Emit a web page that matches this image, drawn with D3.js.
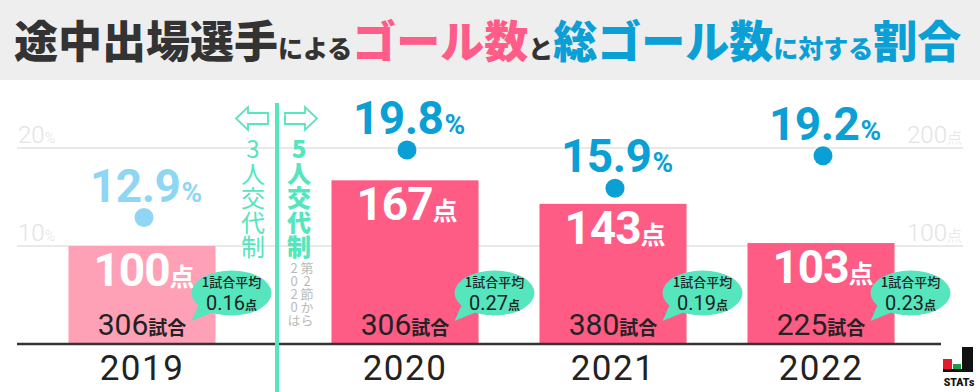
<!DOCTYPE html>
<html>
<head>
<meta charset="utf-8">
<script src="https://cdn.jsdelivr.net/npm/d3@7"></script>
<style>
  html, body { margin: 0; padding: 0; background: #fff; }
  svg { display: block; }
  .vt { writing-mode: vertical-rl; text-orientation: upright; }
</style>
</head>
<body>
<div id="chart"></div>
<script>
// values
var years = ['2019', '2020', '2021', '2022'];
var goals = [100, 167, 143, 103];          // 途中出場選手のゴール数
var ratios = [12.9, 19.8, 15.9, 19.2];     // 総ゴール数に対する割合 (%)
var matches = [306, 306, 380, 225];        // 試合数
var perMatch = ['0.16', '0.27', '0.19', '0.23'];
var pctTicks = [10, 20];
var ptsTicks = [100, 200];
var oldRule = ['2019'];                    // 3人交代制の年

var W = 980, H = 392;
var pink = '#fe5b85', pinkLight = '#ffa1b6';
var blue = '#0a9fd5', blueLight = '#8fd6f5';
var mint = '#55e6bd';
var jp = '"Noto Sans CJK JP", sans-serif';
var num = 'Roboto, "DejaVu Sans", sans-serif';

var svg = d3.select('#chart').append('svg')
    .attr('width', W)
    .attr('height', H);

// title band
svg.append('rect')
    .attr('x', 0).attr('y', 0)
    .attr('width', W).attr('height', 80)
    .attr('fill', '#eeeeee');

var titleParts = [
    { t: '途中出場選手', big: true, c: '#333333' },
    { t: 'による', big: false, c: '#333333' },
    { t: 'ゴール数', big: true, c: '#ff5c8a' },
    { t: 'と', big: false, c: '#333333' },
    { t: '総ゴール数', big: true, c: blue },
    { t: 'に対する', big: false, c: blue },
    { t: '割合', big: true, c: blue }
];
svg.append('text')
    .attr('x', 14).attr('y', 58)
    .attr('font-family', jp)
    .attr('font-weight', 900)
    .selectAll('tspan')
    .data(titleParts)
    .enter()
    .append('tspan')
    .attr('font-size', d => d.big ? 44 : 25)
    .attr('fill', d => d.c)
    .text(d => d.t);

// scales
var step = 208;
var x = d3.scaleBand()
    .domain(years)
    .range([405 - step * 1.5, 405 + step * 2.5])
    .paddingInner(0.293)
    .paddingOuter(0.1465);
var shift = d => oldRule.indexOf(d) >= 0 ? -55 : 0;   // 区切り線より左の年
var cx = d => x(d) + shift(d) + x.bandwidth() / 2;

var yPct = d3.scaleLinear().domain([0, 20]).range([344, 148]);
var yPts = d3.scaleLinear().domain([0, 200]).range([344, 148]);

// gridlines
svg.selectAll('.grid')
    .data(pctTicks)
    .enter()
    .append('line')
    .attr('class', 'grid')
    .attr('x1', 17).attr('x2', 963)
    .attr('y1', d => yPct(d)).attr('y2', d => yPct(d))
    .attr('stroke', '#e9e9e9')
    .attr('stroke-width', 2);

// left axis labels
var lt = svg.selectAll('.lt')
    .data(pctTicks)
    .enter()
    .append('text')
    .attr('class', 'lt')
    .attr('x', 18)
    .attr('y', d => yPct(d) - 5)
    .attr('fill', '#e3e3e3')
    .attr('font-family', num)
    .attr('font-weight', 300);
lt.append('tspan').attr('font-size', 24).text(d => d);
lt.append('tspan').attr('font-size', 14).text('%');

// right axis labels
var rt = svg.selectAll('.rt')
    .data(ptsTicks)
    .enter()
    .append('text')
    .attr('class', 'rt')
    .attr('x', 962)
    .attr('y', d => yPts(d) - 5)
    .attr('text-anchor', 'end')
    .attr('fill', '#e3e3e3')
    .attr('font-family', num)
    .attr('font-weight', 300);
rt.append('tspan').attr('font-size', 24).text(d => d);
rt.append('tspan').attr('font-size', 15).attr('font-family', jp).text('点');

// bars
var rows = years.map((y, i) => ({
    year: y, goals: goals[i], ratio: ratios[i], matches: matches[i], per: perMatch[i],
    old: oldRule.indexOf(y) >= 0
}));

svg.selectAll('.bar')
    .data(rows)
    .enter()
    .append('rect')
    .attr('class', 'bar')
    .attr('x', d => x(d.year) + shift(d.year))
    .attr('y', d => yPts(d.goals))
    .attr('width', x.bandwidth())
    .attr('height', d => yPts(0) - yPts(d.goals))
    .attr('fill', d => d.old ? pinkLight : pink);

// goals label in bar
var gl = svg.selectAll('.gl')
    .data(rows)
    .enter()
    .append('text')
    .attr('class', 'gl')
    .attr('x', d => cx(d.year) + 2)
    .attr('y', d => yPts(d.goals) + 40)
    .attr('text-anchor', 'middle')
    .attr('fill', '#fff')
    .attr('font-weight', 700);
gl.append('tspan').attr('font-family', num).attr('font-size', 46).attr('letter-spacing', -1).text(d => d.goals);
gl.append('tspan').attr('font-family', jp).attr('font-size', 25).text('点');

// matches label
var ml = svg.selectAll('.ml')
    .data(rows)
    .enter()
    .append('text')
    .attr('class', 'ml')
    .attr('x', d => cx(d.year))
    .attr('y', 335)
    .attr('text-anchor', 'middle')
    .attr('fill', '#222');
ml.append('tspan').attr('font-family', num).attr('font-size', 30).attr('font-weight', 400).text(d => d.matches);
ml.append('tspan').attr('font-family', jp).attr('font-size', 19).attr('font-weight', 700).text('試合');

// ratio dots
svg.selectAll('.dot')
    .data(rows)
    .enter()
    .append('circle')
    .attr('class', 'dot')
    .attr('cx', d => cx(d.year) + 2)
    .attr('cy', d => yPct(d.ratio))
    .attr('r', 9.5)
    .attr('fill', d => d.old ? blueLight : blue);

var rl = svg.selectAll('.rl')
    .data(rows)
    .enter()
    .append('text')
    .attr('class', 'rl')
    .attr('x', d => cx(d.year) + 4)
    .attr('y', d => yPct(d.ratio) - 16)
    .attr('text-anchor', 'middle')
    .attr('fill', d => d.old ? blueLight : blue)
    .attr('font-family', num)
    .attr('font-weight', 700);
rl.append('tspan').attr('font-size', 46).attr('letter-spacing', -0.5).text(d => d.ratio.toFixed(1));
rl.append('tspan').attr('font-size', 28).attr('dx', 1).text('%');

// speech bubbles
var bub = svg.selectAll('.bub')
    .data(rows)
    .enter()
    .append('g')
    .attr('class', 'bub')
    .attr('transform', d => `translate(${x(d.year) + shift(d.year) + x.bandwidth() + 16},293)`);

bub.append('path')
    .attr('d', 'M-32,10 L-40,28 L-18,19 Z')
    .attr('fill', mint);
bub.append('ellipse')
    .attr('rx', 40).attr('ry', 22.5)
    .attr('fill', mint);
bub.append('text')
    .attr('y', -6)
    .attr('text-anchor', 'middle')
    .attr('font-family', jp)
    .attr('font-size', 13)
    .attr('font-weight', 500)
    .attr('fill', '#222')
    .text('1試合平均');
var bt = bub.append('text')
    .attr('y', 17)
    .attr('text-anchor', 'middle')
    .attr('fill', '#222');
bt.append('tspan').attr('font-family', num).attr('font-size', 20).text(d => d.per);
bt.append('tspan').attr('font-family', jp).attr('font-size', 12).attr('font-weight', 700).text('点');

// baseline
svg.append('line')
    .attr('x1', 17).attr('x2', 941)
    .attr('y1', yPts(0)).attr('y2', yPts(0))
    .attr('stroke', '#333')
    .attr('stroke-width', 2.5);

// year axis labels
svg.append('g')
    .attr('transform', 'translate(0,380)')
    .selectAll('text')
    .data(years)
    .enter()
    .append('text')
    .attr('x', d => cx(d))
    .attr('text-anchor', 'middle')
    .attr('font-family', num)
    .attr('font-size', 35)
    .attr('letter-spacing', 1.5)
    .attr('fill', '#222')
    .text(d => d);

// divider between 3人交代制 and 5人交代制
var divX = 277;
svg.append('line')
    .attr('x1', divX).attr('x2', divX)
    .attr('y1', 103).attr('y2', H)
    .attr('stroke', mint)
    .attr('stroke-width', 4);

var arrow = 'M0,11.5 L12,0 L12,6 L32,6 L32,17 L12,17 L12,23 Z';
svg.append('path')
    .attr('d', arrow)
    .attr('transform', `translate(${divX - 41},107)`)
    .attr('fill', '#fff').attr('stroke', mint).attr('stroke-width', 1.8);
svg.append('path')
    .attr('d', arrow)
    .attr('transform', `translate(${divX + 40},107) scale(-1,1)`)
    .attr('fill', '#fff').attr('stroke', mint).attr('stroke-width', 1.8);

// vertical text (縦書き)
function vtext(str, xc, y0, size, weight, color, ls) {
    svg.append('text')
        .attr('class', 'vt')
        .attr('x', xc)
        .attr('y', y0)
        .attr('font-family', jp)
        .attr('font-size', size)
        .attr('font-weight', weight)
        .attr('letter-spacing', ls || 0)
        .attr('fill', color)
        .text(str);
}
vtext('3人交代制', divX - 24, 137, 24, 400, mint, 0.5);
vtext('5人交代制', divX + 22, 137, 24, 900, mint, 0.5);
vtext('2020は', divX + 17, 262, 13, 400, '#bbbbbb');
vtext('第2節から', divX + 30, 262, 13, 400, '#bbbbbb');

// STATs logo
var logo = svg.append('g').attr('transform', 'translate(943,346)');
logo.append('rect').attr('x', 0).attr('y', 13).attr('width', 9).attr('height', 13).attr('fill', '#e21c2a');
logo.append('rect').attr('x', 10).attr('y', 18).attr('width', 8).attr('height', 8).attr('fill', '#1f9a46');
logo.append('rect').attr('x', 19).attr('y', 1).attr('width', 11).attr('height', 25).attr('fill', '#111');
logo.append('rect').attr('x', 0).attr('y', 23).attr('width', 30).attr('height', 3).attr('fill', '#111');
logo.append('text')
    .attr('x', 16).attr('y', 40)
    .attr('text-anchor', 'middle')
    .attr('font-family', num)
    .attr('font-weight', 900)
    .attr('font-size', 10.5)
    .attr('fill', '#111')
    .text('STATs');
</script>
</body>
</html>
